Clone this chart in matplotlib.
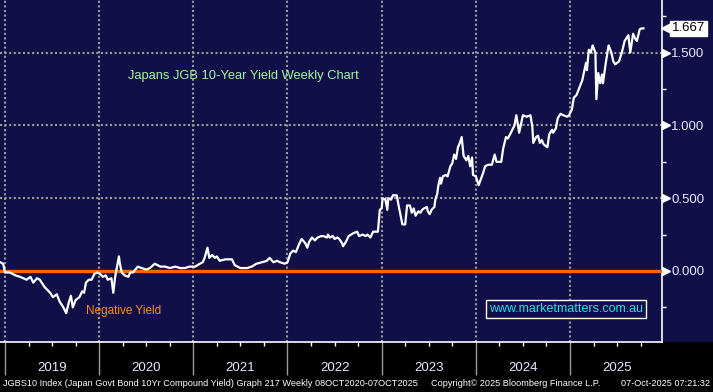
import numpy as np
import matplotlib
matplotlib.use('Agg')
import matplotlib.pyplot as plt
from matplotlib.patches import Rectangle
from matplotlib.transforms import ScaledTranslation

# JGB 10yr yield (x in decimal years)
week_years = [2018.95, 2018.98, 2019.00, 2019.05, 2019.11, 2019.16, 2019.23, 2019.27, 2019.30, 2019.34,
              2019.37, 2019.42, 2019.48, 2019.51, 2019.55, 2019.58, 2019.62, 2019.65, 2019.68, 2019.70,
              2019.72, 2019.75, 2019.79, 2019.82, 2019.84, 2019.86, 2019.89, 2019.92, 2019.95, 2019.98,
              2020.01, 2020.04, 2020.07, 2020.09, 2020.13, 2020.15, 2020.17, 2020.19, 2020.21, 2020.22,
              2020.24, 2020.27, 2020.31, 2020.33, 2020.36, 2020.41, 2020.45, 2020.50, 2020.54, 2020.59,
              2020.65, 2020.70, 2020.75, 2020.81, 2020.86, 2020.91, 2020.96, 2021.02, 2021.07, 2021.10,
              2021.12, 2021.15, 2021.17, 2021.20, 2021.23, 2021.25, 2021.28, 2021.34, 2021.41, 2021.44,
              2021.50, 2021.57, 2021.62, 2021.67, 2021.73, 2021.78, 2021.81, 2021.85, 2021.89, 2021.92,
              2021.97, 2022.00, 2022.03, 2022.06, 2022.09, 2022.12, 2022.15, 2022.19, 2022.21, 2022.23,
              2022.26, 2022.29, 2022.32, 2022.36, 2022.38, 2022.42, 2022.43, 2022.45, 2022.48, 2022.50,
              2022.53, 2022.55, 2022.58, 2022.59, 2022.62, 2022.65, 2022.70, 2022.74, 2022.76, 2022.80,
              2022.83, 2022.85, 2022.88, 2022.91, 2022.96, 2022.98, 2023.00, 2023.01, 2023.04, 2023.06,
              2023.07, 2023.10, 2023.12, 2023.16, 2023.18, 2023.22, 2023.25, 2023.27, 2023.30, 2023.32,
              2023.34, 2023.36, 2023.39, 2023.41, 2023.43, 2023.45, 2023.48, 2023.49, 2023.51, 2023.53,
              2023.56, 2023.57, 2023.59, 2023.60, 2023.62, 2023.63, 2023.65, 2023.68, 2023.70, 2023.73,
              2023.75, 2023.77, 2023.79, 2023.81, 2023.83, 2023.85, 2023.87, 2023.90, 2023.92, 2023.94,
              2023.96, 2023.97, 2024.00, 2024.03, 2024.07, 2024.10, 2024.13, 2024.17, 2024.20, 2024.22,
              2024.27, 2024.29, 2024.32, 2024.34, 2024.38, 2024.41, 2024.43, 2024.46, 2024.49, 2024.50,
              2024.54, 2024.58, 2024.60, 2024.61, 2024.64, 2024.66, 2024.68, 2024.70, 2024.72, 2024.76,
              2024.78, 2024.81, 2024.82, 2024.85, 2024.87, 2024.90, 2024.93, 2024.97, 2024.99, 2025.02,
              2025.04, 2025.07, 2025.10, 2025.13, 2025.15, 2025.17, 2025.18, 2025.20, 2025.22, 2025.24,
              2025.27, 2025.28, 2025.30, 2025.32, 2025.34, 2025.35, 2025.38, 2025.41, 2025.44, 2025.46,
              2025.48, 2025.50, 2025.52, 2025.55, 2025.58, 2025.62, 2025.64, 2025.67, 2025.69, 2025.71,
              2025.74, 2025.76, 2025.78]
jgb_yield = [0.06, 0.05, -0.01, -0.01, -0.03, -0.04, -0.06, -0.04, -0.08, -0.05,
             -0.06, -0.11, -0.15, -0.18, -0.16, -0.21, -0.25, -0.29, -0.21, -0.17,
             -0.25, -0.20, -0.18, -0.14, -0.15, -0.08, -0.06, -0.06, -0.02, -0.01,
             -0.02, -0.04, -0.03, -0.06, -0.05, -0.15, -0.04, 0.03, 0.10, 0.05,
             -0.01, -0.03, -0.04, -0.01, -0.01, 0.03, 0.02, 0.01, 0.02, 0.05,
             0.03, 0.03, 0.02, 0.03, 0.02, 0.02, 0.03, 0.03, 0.05, 0.06,
             0.09, 0.16, 0.09, 0.11, 0.09, 0.10, 0.07, 0.08, 0.08, 0.04,
             0.02, 0.02, 0.03, 0.05, 0.06, 0.07, 0.09, 0.06, 0.07, 0.06,
             0.05, 0.06, 0.12, 0.14, 0.13, 0.18, 0.22, 0.19, 0.16, 0.20,
             0.23, 0.21, 0.23, 0.24, 0.24, 0.23, 0.25, 0.23, 0.24, 0.22,
             0.23, 0.22, 0.19, 0.17, 0.20, 0.24, 0.26, 0.27, 0.24, 0.25,
             0.24, 0.25, 0.23, 0.27, 0.27, 0.42, 0.43, 0.50, 0.49, 0.42,
             0.50, 0.49, 0.52, 0.52, 0.45, 0.32, 0.32, 0.45, 0.45, 0.40,
             0.43, 0.38, 0.41, 0.40, 0.42, 0.43, 0.44, 0.41, 0.39, 0.42,
             0.44, 0.49, 0.53, 0.58, 0.64, 0.60, 0.65, 0.66, 0.65, 0.72,
             0.74, 0.80, 0.77, 0.85, 0.88, 0.92, 0.79, 0.76, 0.79, 0.72,
             0.78, 0.66, 0.65, 0.59, 0.66, 0.72, 0.73, 0.73, 0.80, 0.75,
             0.75, 0.84, 0.92, 0.91, 0.96, 1.00, 1.07, 0.95, 1.04, 1.07,
             1.06, 1.07, 0.99, 0.88, 0.92, 0.93, 0.88, 0.90, 0.87, 0.85,
             0.94, 0.97, 0.95, 0.98, 1.05, 1.08, 1.07, 1.06, 1.07, 1.11,
             1.19, 1.21, 1.26, 1.31, 1.37, 1.43, 1.38, 1.52, 1.50, 1.55,
             1.50, 1.18, 1.36, 1.29, 1.35, 1.29, 1.43, 1.55, 1.50, 1.44,
             1.42, 1.43, 1.44, 1.50, 1.58, 1.62, 1.50, 1.63, 1.60, 1.58,
             1.66, 1.667, 1.667]

year_labels = ['2019', '2020', '2021', '2022', '2023', '2024', '2025']
y_ticks = [0.0, 0.5, 1.0, 1.5]
y_minor = [-0.25, 0.25, 0.75, 1.25, 1.75]

navy = '#110f47'
grid_col = '#9c9c9c'
label_col = '#e4eaff'

fig = plt.figure(figsize=(7.13, 3.92), dpi=100, facecolor=navy)
fig.patches.append(Rectangle((0, 0), 1, 50 / 392, transform=fig.transFigure,
                             facecolor='black', edgecolor='none', zorder=-5))
ax = fig.add_axes([0, 50 / 392, 662 / 713, 342 / 392])
ax.set_facecolor(navy)

ax.plot(week_years, jgb_yield, color='white', lw=1.6, zorder=4, solid_joinstyle='round')
ax.axhline(0, color='#ff6410', lw=2.4, zorder=3)

ax.set_xlim(2018.947, 2025.977)
ax.set_ylim(-0.488, 1.862)

years = [int(y) for y in year_labels]
ax.set_xticks(years)
ax.set_xticks([y + q for y in years for q in (0.25, 0.5, 0.75)], minor=True)
ax.tick_params(axis='x', which='major', length=24, width=1, color=grid_col, labelbottom=False)
ax.tick_params(axis='x', which='minor', length=3, width=1, color='white')
for y, lab in zip(years, year_labels):
    ax.text(y + 0.5, -0.076, lab, transform=ax.get_xaxis_transform(), ha='center', va='center',
            color=label_col, fontsize=9.5, family='Liberation Sans')

ax.yaxis.tick_right()
ax.set_yticks(y_ticks)
ax.set_yticklabels(['%.3f' % v for v in y_ticks])
ax.set_yticks(y_minor, minor=True)
ax.tick_params(axis='y', which='major', length=0, pad=6.5, labelcolor=label_col, labelsize=9.5)
ax.tick_params(axis='y', which='minor', length=3, width=1, color='white')
for t in ax.get_yticklabels():
    t.set_family('Liberation Sans')
ax.plot([1] * len(y_ticks), y_ticks, ls='none', marker='>', ms=6, color='white', clip_on=False,
        transform=ax.get_yaxis_transform() + ScaledTranslation(3.5 / 100, 0, fig.dpi_scale_trans))

ax.grid(True, which='major', color=grid_col, lw=1.5, ls=(0, (1, 1.2)))
ax.set_axisbelow(True)
for s in ['top', 'left']:
    ax.spines[s].set_visible(False)
for s in ['right', 'bottom']:
    ax.spines[s].set_color('white')
    ax.spines[s].set_linewidth(1.2)

# last value tag
last = jgb_yield[-1]
ax.plot([1], [last], ls='none', marker='<', ms=8, color='white', clip_on=False,
        transform=ax.get_yaxis_transform() + ScaledTranslation(4.5 / 100, 0, fig.dpi_scale_trans))
ax.annotate('%.3f' % last, xy=(1, last), xycoords=ax.get_yaxis_transform(),
            xytext=(7, 0), textcoords='offset points', va='center', ha='left',
            fontsize=9.5, family='Liberation Sans', color='black', annotation_clip=False,
            bbox=dict(boxstyle='square,pad=0.12', fc='white', ec='white'))

ax.text(0.367, 0.778, 'Japans JGB 10-Year Yield Weekly Chart', transform=ax.transAxes,
        ha='center', va='center', color='#a2f5a0', fontsize=9.3, family='Liberation Sans')
ax.text(0.130, 0.091, 'Negative Yield', transform=ax.transAxes, ha='left', va='center',
        color='#ff8a1c', fontsize=8.5, family='Liberation Sans')
ax.text(0.855, 0.097, 'www.marketmatters.com.au', transform=ax.transAxes, ha='center', va='center',
        color='#1ee0f5', fontsize=9, family='Liberation Sans',
        bbox=dict(boxstyle='square,pad=0.25', fc=navy, ec='white', lw=1))

foot = dict(color='white', fontsize=6.6, family='Liberation Sans', va='center')
fig.text(3 / 713, 8 / 392, 'JGBS10 Index (Japan Govt Bond 10Yr Compound Yield) Graph 217 Weekly 08OCT2020-07OCT2025', **foot)
fig.text(431 / 713, 8 / 392, 'Copyright\u00a9 2025 Bloomberg Finance L.P.', **foot)
fig.text(710 / 713, 8 / 392, '07-Oct-2025 07:21:32', ha='right', **foot)

fig.savefig('out.png', dpi=100, facecolor=fig.get_facecolor())
